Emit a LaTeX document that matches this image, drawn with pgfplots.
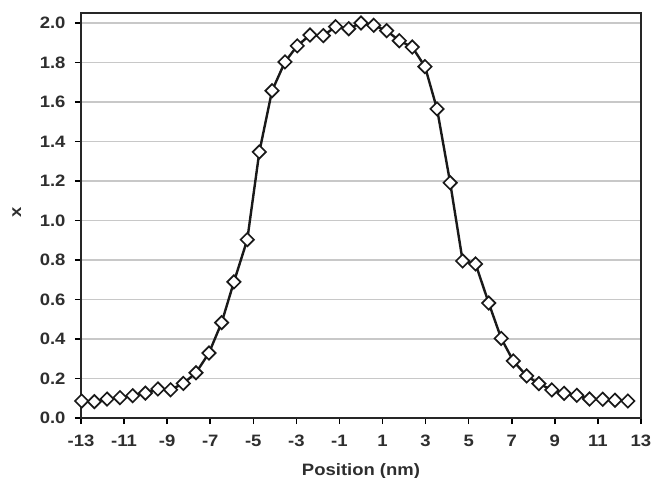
\documentclass[border=0pt]{standalone}
\usepackage{fontspec}
\setmainfont[FakeStretch=1.12]{Liberation Sans}
\usepackage{pgfplots}
\pgfplotsset{compat=1.18}
\definecolor{txt}{HTML}{2E2E2E}
\definecolor{gridc}{HTML}{C8C8C8}
\begin{document}
\begin{tikzpicture}
\useasboundingbox (-81bp,-60bp) rectangle (573bp,418bp);
\begin{axis}[
  at={(0,0)}, anchor=south west,
  scale only axis, width=560bp, height=404.7bp,
  xmin=-13, xmax=13, ymin=0, ymax=2.049,
  xtick={-13,-11,-9,-7,-5,-3,-1,1,3,5,7,9,11,13},
  ytick={0,0.2,0.4,0.6,0.8,1.0,1.2,1.4,1.6,1.8,2.0},
  /pgf/number format/assume math mode=true,
  tick label style={font=\fontsize{16.5bp}{19bp}\selectfont\bfseries, text=txt, inner sep=0pt},
  xticklabel style={yshift=-10.7bp},
  yticklabel style={/pgf/number format/fixed, /pgf/number format/fixed zerofill, /pgf/number format/precision=1, xshift=-9.3bp},
  tick align=outside, major tick length=6bp,
  xtick pos=bottom, ytick pos=left,
  tick style={line width=1.5bp, black},
  axis line style={line width=2bp, black!85},
  ymajorgrids, grid style={line width=1.4bp, gridc},
  xlabel={Position (nm)},
  xlabel style={at={(axis description cs:0.5,0)}, anchor=base, yshift=-57bp, font=\fontsize{16.5bp}{19bp}\selectfont\bfseries, text=txt, inner sep=0pt},
  ylabel={x},
  ylabel style={at={(axis description cs:-0.1148,0.507)}, anchor=center, font=\fontsize{16.5bp}{19bp}\selectfont\bfseries, text=txt, inner sep=0pt},
]
\addplot[line width=2.4bp, black!90, mark=square*, mark size=4.7bp,
  mark options={rotate=45, fill=white, draw=black!90, line width=1.7bp, solid}]
coordinates {
(-12.97,0.086) (-12.38,0.083) (-11.79,0.096) (-11.19,0.103) (-10.60,0.113)
(-10.01,0.126) (-9.43,0.147) (-8.84,0.143) (-8.25,0.175) (-7.66,0.229)
(-7.06,0.329) (-6.47,0.483) (-5.90,0.689) (-5.28,0.903) (-4.72,1.347)
(-4.13,1.657) (-3.53,1.803) (-2.96,1.884) (-2.37,1.939) (-1.75,1.936)
(-1.18,1.981) (-0.57,1.971) (0.00,2.000) (0.59,1.988) (1.19,1.961)
(1.78,1.910) (2.38,1.878) (2.97,1.779) (3.53,1.565) (4.14,1.191)
(4.72,0.795) (5.32,0.780) (5.93,0.582) (6.51,0.403) (7.07,0.289)
(7.69,0.213) (8.26,0.174) (8.86,0.142) (9.43,0.125) (10.02,0.115)
(10.61,0.096) (11.22,0.095) (11.79,0.090) (12.39,0.086)
};
\end{axis}
\end{tikzpicture}
\end{document}
